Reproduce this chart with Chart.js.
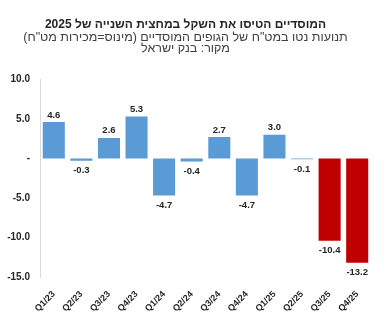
<!DOCTYPE html>
<html>
<head>
<meta charset="utf-8">
<script src="https://cdn.jsdelivr.net/npm/chart.js@4"></script>
<style>
  html, body { margin: 0; padding: 0; background: #fff; }
  #wrap { width: 386px; height: 330px; }
</style>
</head>
<body>
<div id="wrap"><canvas id="chart" width="386" height="330"></canvas></div>
<script>
const quarters = ['Q1/23','Q2/23','Q3/23','Q4/23','Q1/24','Q2/24','Q3/24','Q4/24','Q1/25','Q2/25','Q3/25','Q4/25'];
const netFlows = [4.6, -0.3, 2.6, 5.3, -4.7, -0.4, 2.7, -4.7, 3.0, -0.1, -10.4, -13.2];
const barColors = ['#5b9bd5','#5b9bd5','#5b9bd5','#5b9bd5','#5b9bd5','#5b9bd5','#5b9bd5','#5b9bd5','#5b9bd5','#5b9bd5','#c00000','#c00000'];
const titleText = 'המוסדיים הטיסו את השקל במחצית השנייה של 2025';
const subtitleLines = ['תנועות נטו במט"ח של הגופים המוסדיים (מינוס=מכירות מט"ח)', 'מקור: בנק ישראל'];

const font = 'Liberation Sans, Arial, sans-serif';

// value labels above / below each bar
const barLabels = {
  id: 'barLabels',
  afterDatasetsDraw(chart) {
    const ctx = chart.ctx;
    const meta = chart.getDatasetMeta(0);
    ctx.save();
    ctx.font = 'bold 9.5px ' + font;
    ctx.fillStyle = '#262626';
    ctx.textAlign = 'center';
    ctx.textBaseline = 'alphabetic';
    meta.data.forEach((bar, i) => {
      const v = netFlows[i];
      const y = v >= 0 ? bar.y - 4.5 : bar.y + 12.5;
      ctx.fillText(v.toFixed(1), bar.x, y);
    });
    ctx.restore();
  }
};

new Chart(document.querySelector('#chart'), {
  type: 'bar',
  data: {
    labels: quarters,
    datasets: [{ data: netFlows, backgroundColor: barColors, categoryPercentage: 0.8, barPercentage: 1.0 }]
  },
  options: {
    responsive: false,
    animation: false,
    layout: { padding: { left: 0, right: 15, top: 0, bottom: 0 } },
    plugins: {
      legend: { display: false },
      tooltip: { enabled: false },
      title: {
        display: true, text: titleText, color: '#262626',
        font: { family: font, size: 12, weight: 'bold', lineHeight: 1.2 },
        padding: { top: 17, bottom: 0 }
      },
      subtitle: {
        display: true, text: subtitleLines, color: '#404040',
        font: { family: font, size: 12.5, lineHeight: 0.92 },
        padding: { top: 0, bottom: 25 }
      }
    },
    scales: {
      y: {
        min: -15, max: 10,
        afterFit: (s) => { s.width = 40; },
        ticks: {
          stepSize: 5, padding: 10, color: '#262626',
          font: { family: font, size: 10, weight: 'bold' },
          callback: (v) => v === 0 ? '-' : v.toFixed(1)
        },
        grid: { display: false, drawTicks: false },
        border: { display: true, color: '#d9d9d9' }
      },
      x: {
        afterFit: (s) => { s.height = 53; },
        grid: { display: false, drawTicks: false },
        border: { display: false },
        ticks: {
          minRotation: 45, maxRotation: 45, padding: 12, color: '#262626',
          font: { family: font, size: 9, weight: 'bold' }
        }
      }
    }
  },
  plugins: [barLabels]
});
</script>
</body>
</html>
